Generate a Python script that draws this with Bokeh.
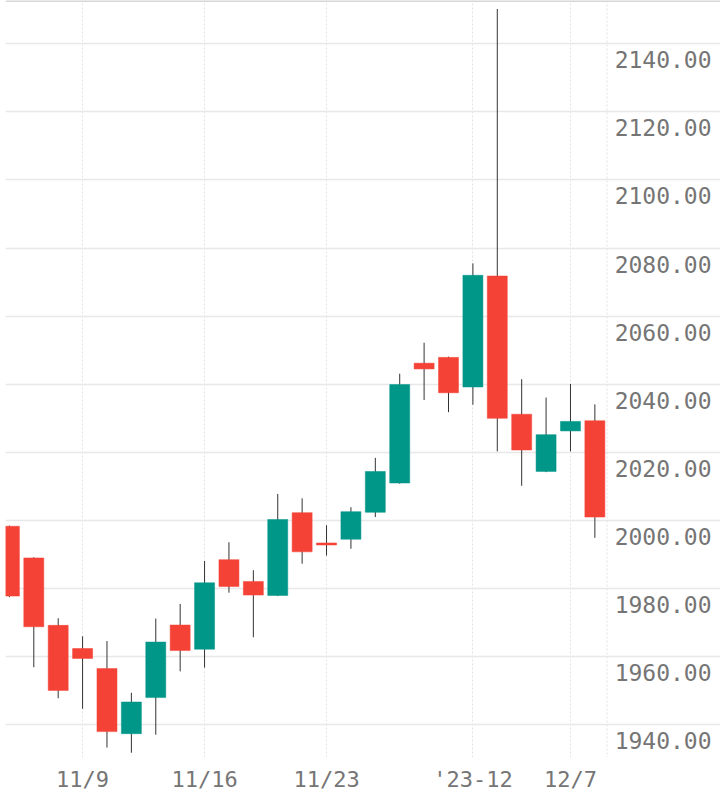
from bokeh.plotting import figure
from bokeh.models import Range1d, FixedTicker, Span, ColumnDataSource
from bokeh.core.properties import value
from bokeh.embed import file_html
from bokeh.resources import INLINE

dates = ["2023-11-06", "2023-11-07", "2023-11-08", "2023-11-09", "2023-11-10",
         "2023-11-13", "2023-11-14", "2023-11-15", "2023-11-16", "2023-11-17",
         "2023-11-20", "2023-11-21", "2023-11-22", "2023-11-23", "2023-11-24",
         "2023-11-27", "2023-11-28", "2023-11-29", "2023-11-30", "2023-12-01",
         "2023-12-04", "2023-12-05", "2023-12-06", "2023-12-07", "2023-12-08"]
open_ = [1998.3, 1989.0, 1969.2, 1962.4, 1956.5, 1937.4, 1948.0, 1969.3, 1962.2, 1988.5,
         1982.1, 1978.0, 2002.3, 1993.4, 1994.5, 2002.4, 2011.0, 2046.2, 2047.9, 2039.2,
         2071.8, 2031.2, 2014.4, 2026.3, 2029.3]
high = [1998.5, 1989.2, 1971.3, 1966.0, 1964.6, 1949.4, 1971.2, 1975.5, 1988.1, 1993.6,
        1985.4, 2007.8, 2006.5, 1998.6, 2003.9, 2018.4, 2043.1, 2052.2, 2048.1, 2075.5,
        2150.2, 2041.5, 2036.1, 2040.1, 2034.1]
low = [1977.5, 1956.9, 1947.8, 1944.7, 1933.3, 1931.8, 1937.1, 1955.7, 1956.8, 1978.8,
       1965.7, 1977.8, 1987.3, 1989.7, 1991.7, 2001.0, 2010.8, 2035.4, 2031.8, 2034.0,
       2020.3, 2010.2, 2014.2, 2020.3, 1994.9]
close = [1977.8, 1968.8, 1950.1, 1959.5, 1938.0, 1946.7, 1964.3, 1961.8, 1981.7, 1980.6,
         1978.1, 2000.3, 1990.8, 1992.8, 2002.6, 2014.4, 2039.9, 2044.5, 2037.5, 2072.0,
         2030.0, 2020.7, 2025.2, 2029.1, 2001.0]

x_tick_dates = ["2023-11-09", "2023-11-16", "2023-11-23", "2023-12-01", "2023-12-07"]
x_tick_labels = ["11/9", "11/16", "11/23", "'23-12", "12/7"]
y_ticks = [1940, 1960, 1980, 2000, 2020, 2040, 2060, 2080, 2100, 2120, 2140]

UP = "#009688"
DOWN = "#F44336"
TXT = "#757575"
FONT = "DejaVu Sans Mono"

n = len(dates)
xs = list(range(n))
colors = [UP if c >= o else DOWN for o, c in zip(open_, close)]
top = [max(o, c) for o, c in zip(open_, close)]
bot = [min(o, c) for o, c in zip(open_, close)]

src = ColumnDataSource(dict(x=xs, open=open_, high=high, low=low, close=close,
                            top=top, bot=bot, color=colors))

p = figure(width=720, height=797, output_backend="svg", toolbar_location=None,
           x_range=Range1d(-0.16, 29.15), y_range=Range1d(1930.4, 2152.7),
           min_border_left=5, min_border_right=0, min_border_top=0, min_border_bottom=40)
p.outline_line_color = None
p.background_fill_color = "white"
p.border_fill_color = "white"

# grids
p.ygrid.ticker = FixedTicker(ticks=y_ticks)
p.ygrid.grid_line_color = "#e8e8e8"
p.ygrid.grid_line_width = 1.6
tick_idx = [dates.index(d) for d in x_tick_dates]
p.xgrid.ticker = FixedTicker(ticks=tick_idx)
p.xgrid.grid_line_color = "#e2e2e2"
p.xgrid.grid_line_dash = "2 2"
p.xgrid.grid_line_width = 1
p.add_layout(Span(location=n - 0.5, dimension="height", line_color="#e2e2e2",
                  line_dash="2 2", line_width=1))
p.add_layout(Span(location=2152.7, dimension="width", line_color="#d6d6d6", line_width=3))

# candles
p.segment(x0="x", y0="low", x1="x", y1="high", source=src, line_color="#333333", line_width=1)
p.vbar(x="x", width=0.82, top="top", bottom="bot", source=src,
       fill_color="color", line_color="color", line_width=0.5)

# y labels (right side, inside frame area)
label_x = n - 1 + 0.81
p.text(x=[label_x] * len(y_ticks), y=y_ticks, text=[f"{v:.2f}" for v in y_ticks],
       text_font=value(FONT), text_font_size="23px", text_color=TXT,
       text_align="left", text_baseline="middle", y_offset=16)

# axes
p.yaxis.visible = False
xa = p.xaxis[0]
xa.ticker = FixedTicker(ticks=tick_idx)
xa.major_label_overrides = {i: lab for i, lab in zip(tick_idx, x_tick_labels)}
xa.axis_line_color = None
xa.major_tick_line_color = None
xa.minor_tick_line_color = None
xa.major_label_text_font = FONT
xa.major_label_text_font_size = "22px"
xa.major_label_text_color = TXT
xa.major_label_standoff = 3

open("out.html", "w").write(file_html(p, INLINE))
